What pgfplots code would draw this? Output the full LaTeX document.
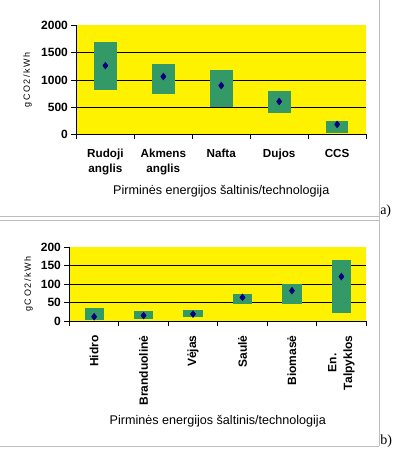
\documentclass[border=0pt]{standalone}
\usepackage{fontspec}
\setmainfont{Liberation Sans}
\newfontfamily\seriffont{Liberation Serif}
\usepackage{pgfplots}
\pgfplotsset{compat=1.18}
\usepackage{pgfplotstable}
\definecolor{boxgreen}{RGB}{51,153,102}
\definecolor{navy}{RGB}{0,0,128}
\definecolor{framegray}{RGB}{190,190,190}

\pgfplotstableread{
x lo m hi
1 811 1262 1705
2 743 1061 1286
3 494 896 1177
4 395 603 792
5 30 183 243
}\topdata

\pgfplotstableread{
x lo m hi
1 4 12 36
2 6 15 26
3 12 19 31
4 47 64 74
5 45 82 100
6 23 120 165
}\botdata

\pgfplotsset{
  mybox/.style={
    scale only axis,
    axis background/.style={fill=yellow},
    axis x line*=bottom, axis y line*=left,
    axis line style={-, black, line width=0.8pt},
    tick align=outside,
    major tick length=5pt,
    tick style={black, line width=0.8pt},
    /pgf/number format/assume math mode=true,
    /pgf/number format/1000 sep={},
    yticklabel style={font=\bfseries\fontsize{12}{12}\selectfont},
    xticklabels={},
    extra x tick style={major tick length=0pt},
    ymin=0,
    clip=false,
  },
}

\begin{document}
\begin{tikzpicture}
\path[fill=white] (0pt,0pt) rectangle (395pt,454pt);
% frame lines
\draw[framegray, line width=1pt] (379pt,454pt) -- (379pt,8pt);
\draw[framegray, line width=1pt] (0pt,238pt) -- (379pt,238pt);
\draw[framegray, line width=1pt] (0pt,233.7pt) -- (379pt,233.7pt);
\draw[framegray, line width=1pt] (0pt,8pt) -- (379pt,8pt);
\node[anchor=base west, font=\seriffont\fontsize{14}{14}\selectfont, inner sep=0pt] at (380pt,240pt) {a)};
\node[anchor=base west, font=\seriffont\fontsize{14}{14}\selectfont, inner sep=0pt] at (380pt,10pt) {b)};

\begin{axis}[mybox,
  at={(76pt,320pt)}, anchor=south west,
  width=290pt, height=109pt,
  xmin=0.5, xmax=5.5, ymax=2000,
  xtick={0.5,1.5,...,5.5},
  ytick={0,500,...,2000},
  extra y ticks={500,1000,1500},
  extra y tick labels={},
  extra y tick style={grid=major, major tick length=0pt, major grid style={black, line width=0.8pt}},
  extra x ticks={1,2,3,4,5},
  extra x tick labels={Rudoji\\anglis, Akmens\\anglis, Nafta, Dujos, CCS},
  extra x tick style={xticklabel style={align=center, anchor=north, font=\bfseries\fontsize{11.7}{15.5}\selectfont, yshift=-11pt}},
  xlabel={Pirminės energijos šaltinis/technologija},
  xlabel style={font=\fontsize{12.6}{12.6}\selectfont, at={(axis description cs:0.5,0)}, anchor=center, yshift=-57pt},
]
\addplot[only marks, mark=none, forget plot,
  error bars/.cd, y dir=both, y explicit, error mark=none,
  error bar style={line width=22.7pt, color=boxgreen}]
  table[x=x, y=m, y error plus expr=\thisrow{hi}-\thisrow{m}, y error minus expr=\thisrow{m}-\thisrow{lo}] {\topdata};
\addplot[only marks, mark=diamond*, mark size=3.5pt, color=navy] table[x=x, y=m] {\topdata};
\node[rotate=90, anchor=center, font=\fontsize{9}{9}\selectfont\addfontfeature{LetterSpace=18}] at ([xshift=-49pt]rel axis cs:0,0.5) {gCO2/kWh};
\end{axis}

\begin{axis}[mybox,
  at={(69pt,133pt)}, anchor=south west,
  width=297pt, height=74.3pt,
  xmin=0.5, xmax=6.5, ymax=200,
  xtick={0.5,1.5,...,6.5},
  ytick={0,50,...,200},
  extra y ticks={50,100,150},
  extra y tick labels={},
  extra y tick style={grid=major, major tick length=0pt, major grid style={black, line width=0.8pt}},
  extra x ticks={1,2,3,4,5,6},
  extra x tick labels={Hidro, Branduolinė, Vėjas, Saulė, Biomasė, En.\\Talpyklos},
  extra x tick style={xticklabel style={align=center, rotate=90, anchor=east, font=\bfseries\fontsize{12}{16}\selectfont, xshift=-11pt}},
  xlabel={Pirminės energijos šaltinis/technologija},
  xlabel style={font=\fontsize{12.6}{12.6}\selectfont, at={(axis description cs:0.5,0)}, anchor=center, yshift=-100pt},
]
\addplot[only marks, mark=none, forget plot,
  error bars/.cd, y dir=both, y explicit, error mark=none,
  error bar style={line width=19.3pt, color=boxgreen}]
  table[x=x, y=m, y error plus expr=\thisrow{hi}-\thisrow{m}, y error minus expr=\thisrow{m}-\thisrow{lo}] {\botdata};
\addplot[only marks, mark=diamond*, mark size=3.5pt, color=navy] table[x=x, y=m] {\botdata};
\node[rotate=90, anchor=center, font=\fontsize{9}{9}\selectfont\addfontfeature{LetterSpace=18}] at ([xshift=-41pt]rel axis cs:0,0.5) {gCO2/kWh};
\end{axis}
\end{tikzpicture}
\end{document}
